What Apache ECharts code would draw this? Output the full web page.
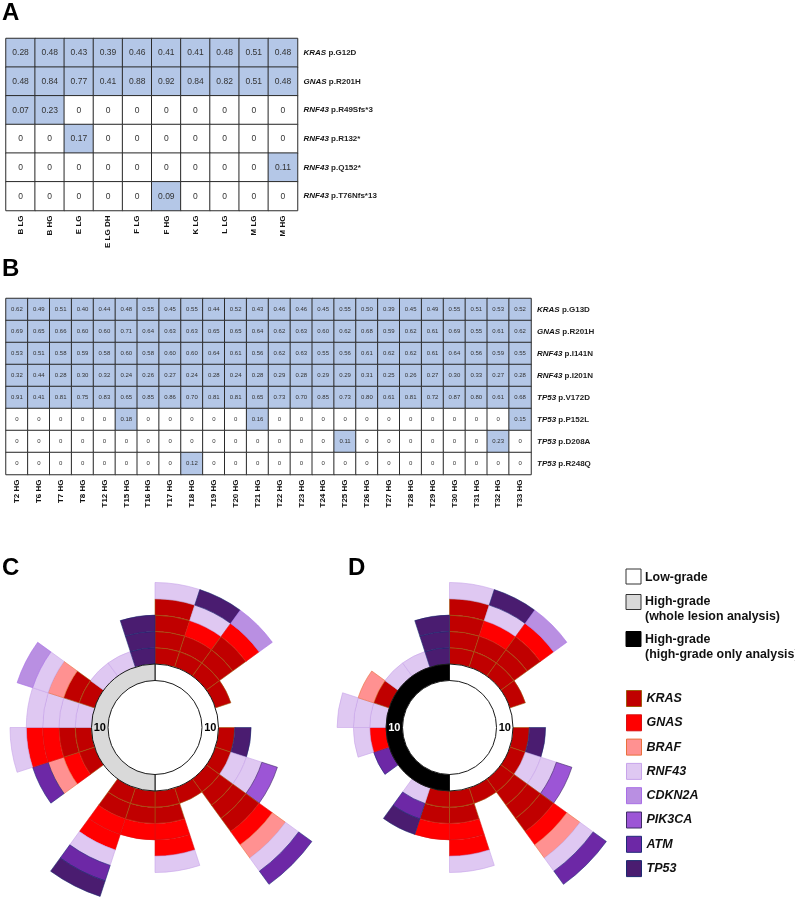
<!DOCTYPE html>
<html><head><meta charset="utf-8">
<style>html,body{margin:0;padding:0;background:#fff}#c{width:795px;height:900px}</style>
<script src="https://cdn.jsdelivr.net/npm/echarts@6/dist/echarts.min.js"></script>
</head><body><div id="c"></div>
<script>
const colsA = ['B LG','B HG','E LG','E LG DH','F LG','F HG','K LG','L LG','M LG','M HG'];
const rowsA = ['KRAS p.G12D','GNAS p.R201H','RNF43 p.R49Sfs*3','RNF43 p.R132*','RNF43 p.Q152*','RNF43 p.T76Nfs*13'];
const valsA = [
 [0.28,0.48,0.43,0.39,0.46,0.41,0.41,0.48,0.51,0.48],
 [0.48,0.84,0.77,0.41,0.88,0.92,0.84,0.82,0.51,0.48],
 [0.07,0.23,0,0,0,0,0,0,0,0],
 [0,0,0.17,0,0,0,0,0,0,0],
 [0,0,0,0,0,0,0,0,0,0.11],
 [0,0,0,0,0,0.09,0,0,0,0]
];
const colsB = ['T2 HG','T6 HG','T7 HG','T8 HG','T12 HG','T15 HG','T16 HG','T17 HG','T18 HG','T19 HG','T20 HG','T21 HG','T22 HG','T23 HG','T24 HG','T25 HG','T26 HG','T27 HG','T28 HG','T29 HG','T30 HG','T31 HG','T32 HG','T33 HG'];
const rowsB = ['KRAS p.G13D','GNAS p.R201H','RNF43 p.I141N','RNF43 p.I201N','TP53 p.V172D','TP53 p.P152L','TP53 p.D208A','TP53 p.R248Q'];
const valsB = [
 [0.62,0.49,0.51,0.40,0.44,0.48,0.55,0.45,0.55,0.44,0.52,0.43,0.46,0.46,0.45,0.55,0.50,0.39,0.45,0.49,0.55,0.51,0.53,0.52],
 [0.69,0.65,0.66,0.60,0.60,0.71,0.64,0.63,0.63,0.65,0.65,0.64,0.62,0.63,0.60,0.62,0.68,0.59,0.62,0.61,0.69,0.55,0.61,0.62],
 [0.53,0.51,0.58,0.59,0.58,0.60,0.58,0.60,0.60,0.64,0.61,0.56,0.62,0.63,0.55,0.56,0.61,0.62,0.62,0.61,0.64,0.56,0.59,0.55],
 [0.32,0.44,0.28,0.30,0.32,0.24,0.26,0.27,0.24,0.28,0.24,0.28,0.29,0.28,0.29,0.29,0.31,0.25,0.26,0.27,0.30,0.33,0.27,0.28],
 [0.91,0.41,0.81,0.75,0.83,0.65,0.85,0.86,0.70,0.81,0.81,0.65,0.73,0.70,0.85,0.73,0.80,0.61,0.81,0.72,0.87,0.80,0.61,0.68],
 [0,0,0,0,0,0.18,0,0,0,0,0,0.16,0,0,0,0,0,0,0,0,0,0,0,0.15],
 [0,0,0,0,0,0,0,0,0,0,0,0,0,0,0,0.11,0,0,0,0,0,0,0.23,0],
 [0,0,0,0,0,0,0,0,0.12,0,0,0,0,0,0,0,0,0,0,0,0,0,0,0]
];
// Mutations per lesion, clockwise from 12 o'clock, listed from the ring outwards.
const K='KRAS',G='GNAS',Bf='BRAF',R='RNF43',Cd='CDKN2A',P='PIK3CA',At='ATM',Tp='TP53';
const lesionsC = [
 [K,K,K,K,R],[K,K,G,R,Tp],[K,K,K,G,Cd],[K],[],[K,Tp],[K,R,R,P],[K,K,K,K,G,Bf,R,At],[K],[K,K,G,G,R],
 [K,K,G],[K,K,G,G,R,At,Tp],[],[K,G,Bf,At],[K,K,G,G,R],[R,R,R,R],[K,K,Bf,R,Cd],[R],[R],[Tp,Tp,Tp]
];
const lesionsD = [
 [K,K,K,K,R],[K,K,G,R,Tp],[K,K,K,G,Cd],[K],[],[K,Tp],[K,R,R,P],[K,K,K,K,G,Bf,R,At],[K],[K,K,G,G,R],
 [K,K,G],[R,At,Tp],[],[At],[G,R],[R,R,R],[K,Bf],[R],[R],[Tp,Tp,Tp]
];
const genes = ['KRAS','GNAS','BRAF','RNF43','CDKN2A','PIK3CA','ATM','TP53'];
const geneFill = ['#c00000','#ff0000','#ff9191','#dfc8f2','#b98fe2','#9c55d6','#6d28a6','#4a1c70'];
const geneEdge = ['#a05a10','#d81010','#e8703c','#c8a4ea','#a86ee6','#3f2c66','#1f2a78','#1c2a70'];
const gradeCounts = [10,10];
const gradeLegend = ['Low-grade','High-grade\n(whole lesion analysis)','High-grade\n(high-grade only analysis)'];

const fillOf = Object.fromEntries(genes.map((g,i)=>[g,geneFill[i]]));
const edgeOf = Object.fromEntries(genes.map((g,i)=>[g,geneEdge[i]]));
const cellFont = 'Liberation Sans';

function heatData(vals){const o=[];vals.forEach((r,y)=>r.forEach((v,x)=>o.push([x,y,v])));return o;}
function rowLabel(s){const i=s.indexOf(' ');return '{g|'+s.slice(0,i)+'}{m| '+s.slice(i+1)+'}';}
function xAx(i,cols,fs,m){return {gridIndex:i,type:'category',data:cols,position:'bottom',
  axisLine:{show:false},axisTick:{show:false},splitLine:{show:false},
  axisLabel:{interval:0,rotate:90,margin:m,color:'#111',fontFamily:cellFont,fontWeight:'bold',fontSize:fs}};}
function yAx(i,rows,fs,m){const rich={g:{fontFamily:cellFont,fontWeight:'bold',fontStyle:'italic',fontSize:fs,color:'#111'},
  m:{fontFamily:cellFont,fontWeight:'bold',fontSize:fs,color:'#222'}};
  return {gridIndex:i,type:'category',data:rows,inverse:true,position:'right',
  axisLine:{show:false},axisTick:{show:false},splitLine:{show:false},
  axisLabel:{interval:0,margin:m,align:'left',fontSize:fs,formatter:rowLabel,rich}};}
function heat(i,vals,fs,bw){return {type:'heatmap',xAxisIndex:i,yAxisIndex:i,data:heatData(vals),
  itemStyle:{borderColor:'#2b2b2b',borderWidth:bw},
  label:{show:true,fontFamily:cellFont,fontSize:fs,color:'#333',
    formatter:p=>p.value[2]===0?'0':p.value[2].toFixed(2)},
  emphasis:{disabled:true}};}

const depth = 8;
function polarOf(c){return {center:c,radius:[63.5,63.5+depth*16.3]};}
function aAx(i,ls){return {polarIndex:i,type:'category',data:ls.map((_,k)=>k+1),startAngle:90,clockwise:true,boundaryGap:true,
  axisLine:{show:false},axisTick:{show:false},axisLabel:{show:false},splitLine:{show:false}};}
function rAx(i){return {polarIndex:i,type:'value',min:0,max:depth,
  axisLine:{show:false},axisTick:{show:false},axisLabel:{show:false},splitLine:{show:false}};}
function layers(i,ls,tag){const out=[];
  for(let l=0;l<depth;l++){
    out.push({type:'bar',name:tag+' layer '+(l+1),coordinateSystem:'polar',polarIndex:i,stack:tag,barCategoryGap:'0%',
      data:ls.map(s=>s[l]?{value:1,itemStyle:{color:fillOf[s[l]],borderColor:edgeOf[s[l]],borderWidth:0.6}}:{value:null})});
  }
  return out;}
function ring(c,high,txt){return {type:'pie',center:c,radius:[47,63.5],startAngle:90,clockwise:true,silent:true,
  data:[{value:gradeCounts[0],name:'Low-grade',itemStyle:{color:'#fff'},label:{color:'#000',offset:[-3,0]}},
        {value:gradeCounts[1],name:'High-grade',itemStyle:{color:high},label:{color:txt,offset:[3,0]}}],
  itemStyle:{borderColor:'#1a1a1a',borderWidth:1},
  label:{show:true,position:'inside',formatter:'{c}',fontFamily:cellFont,fontWeight:'bold',fontSize:11},
  labelLine:{show:false},z:3};}

const cC=[155,727.5], cD=[449.5,727.5];
const gSwatch=(y,fill,edge)=>({type:'rect',shape:{x:626,y:y,width:15,height:15},style:{fill,stroke:edge,lineWidth:1}});
const gText=(y,t)=>({type:'text',x:645,y:y,style:{text:t,fontFamily:cellFont,fontWeight:'bold',fontSize:12.4,lineHeight:15,fill:'#111',textVerticalAlign:'top'}});

const dummy = genes.map((g,i)=>({type:'bar',name:g,coordinateSystem:'polar',polarIndex:0,data:[],stack:'C',itemStyle:{color:geneFill[i]}}));

const option = {
  animation:false,backgroundColor:'#fff',
  title:[['A',2,1],['B',2,257],['C',2,556],['D',348,556]].map(t=>({text:t[0],left:t[1],top:t[2],padding:0,
    textStyle:{fontFamily:cellFont,fontWeight:'bold',fontSize:24,color:'#000'}})),
  grid:[{left:6,top:38.5,width:291.5,height:172},{left:6,top:298.5,width:525,height:176}],
  xAxis:[xAx(0,colsA,8,5),xAx(1,colsB,8,5)],
  yAxis:[yAx(0,rowsA,8,6),yAx(1,rowsB,8,6)],
  visualMap:{show:false,type:'piecewise',dimension:2,seriesIndex:[0,1],
    pieces:[{value:0,color:'#ffffff'},{gt:0,color:'#b4c7e7'}]},
  polar:[polarOf(cC),polarOf(cD)],
  angleAxis:[aAx(0,lesionsC),aAx(1,lesionsD)],
  radiusAxis:[rAx(0),rAx(1)],
  legend:{orient:'vertical',left:626,top:690,padding:0,itemWidth:15,itemHeight:16,itemGap:7.3,icon:'rect',selectedMode:false,
    data:genes.map((g,i)=>({name:g,itemStyle:{color:geneFill[i],borderColor:geneEdge[i],borderWidth:1}})),
    textStyle:{fontFamily:cellFont,fontWeight:'bold',fontStyle:'italic',fontSize:12.5,lineHeight:14,color:'#111'}},
  series:[heat(0,valsA,8.5,1),heat(1,valsB,6,1),
    ...layers(0,lesionsC,'C'),...layers(1,lesionsD,'D'),...dummy,
    ring(cC,'#d9d9d9','#000'),ring(cD,'#000','#fff')],
  graphic:[gSwatch(569,'#fff','#333'),gSwatch(594.5,'#d9d9d9','#333'),gSwatch(631.5,'#000','#000'),
    gText(570,gradeLegend[0]),gText(594,gradeLegend[1]),gText(632.5,gradeLegend[2])]
};
echarts.init(document.getElementById('c'),null,{renderer:'canvas'}).setOption(option);
</script></body></html>
